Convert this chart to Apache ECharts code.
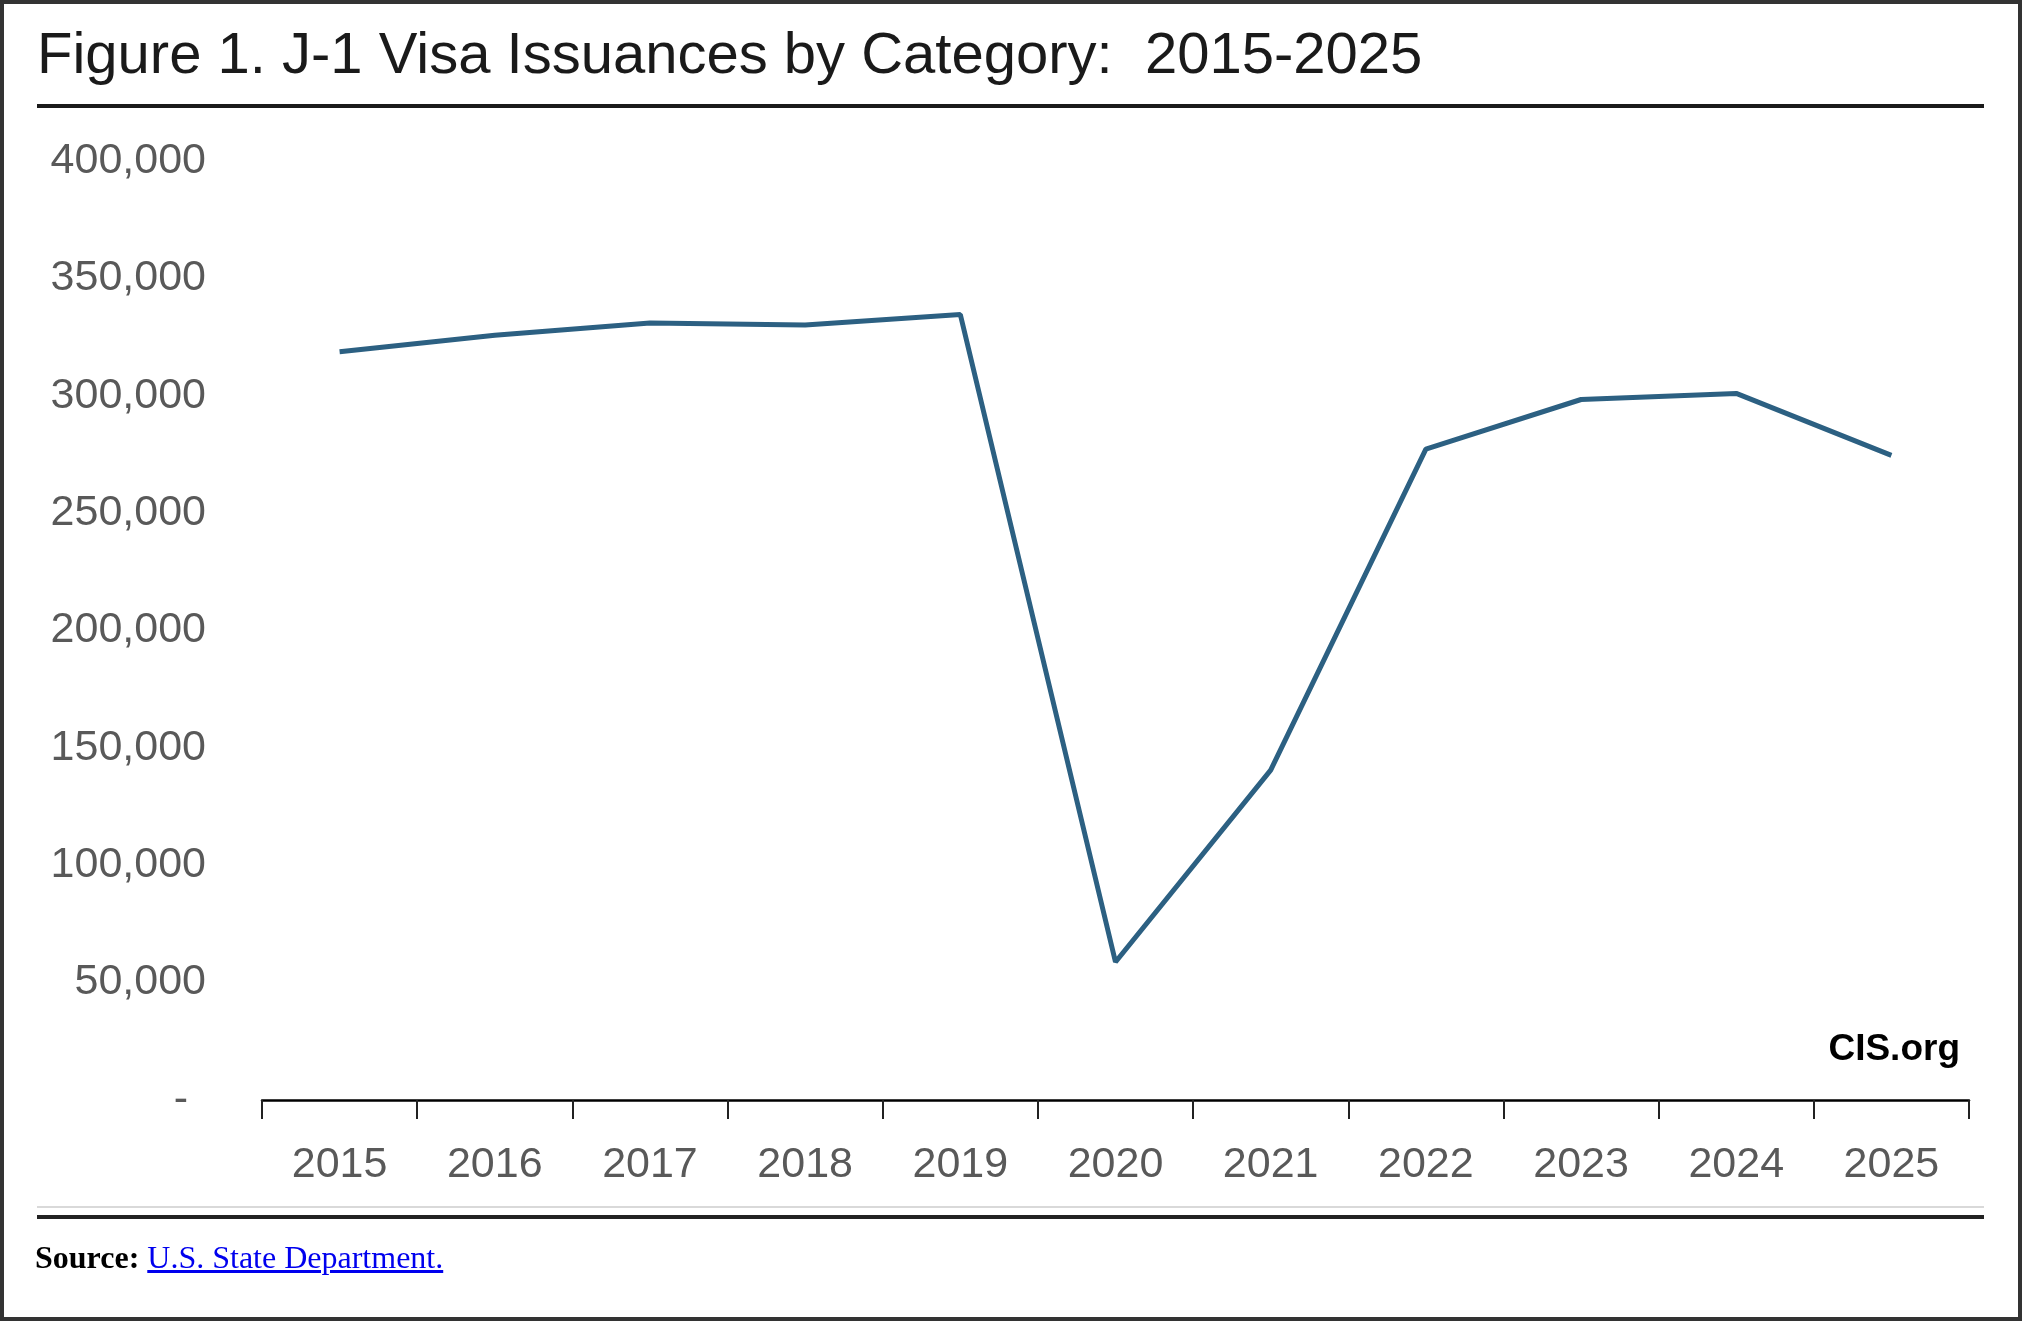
<!DOCTYPE html>
<html>
    <head>
        <meta charset="utf-8">
        <script src="https://cdn.jsdelivr.net/npm/echarts@6/dist/echarts.min.js"></script>
        <style>
            html, body {
                margin: 0;
                padding: 0;
                background: #fff;
            }
            #frame {
                position: relative;
                width: 2022px;
                height: 1321px;
                border: 4px solid #333;
                box-sizing: border-box;
                overflow: hidden;
            }
            #chart {
                position: absolute;
                left: -4px;
                top: -4px;
                width: 2022px;
                height: 1321px;
            }
            .source {
                position: absolute;
                left: 31px;
                top: 1235px;
                font-family: "Liberation Serif", "Times New Roman", serif;
                font-size: 32px;
                color: #000;
            }
            .source b {
                font-weight: bold;
            }
            .source a {
                color: #0000ee;
                text-decoration: underline;
            }
        </style>
    </head>
    <body>
        <div id="frame">
            <div id="chart"></div>
            <div class="source"><b>Source:</b> <a href="#">U.S. State Department.</a></div>
        </div>

        <script>
        var years = ['2015', '2016', '2017', '2018', '2019', '2020', '2021', '2022', '2023', '2024', '2025'];
        var issuances = [318700, 325800, 331000, 330100, 334600, 58800, 140500, 277300, 298400, 301000, 274600];

        var titleText = 'Figure 1. J-1 Visa Issuances by Category:  2015-2025';
        var watermark = 'CIS.org';

        var myChart = echarts.init(document.getElementById('chart'));

        function fmt(v) {
            if (v === 0) {
                return '{dash|-}';
            }
            return String(v).replace(/\B(?=(\d{3})+(?!\d))/g, ',');
        }

        var option = {
            animation: false,
            title: {
                text: titleText,
                left: 32,
                top: 23,
                textStyle: {
                    fontFamily: 'Liberation Sans, Arial, sans-serif',
                    fontSize: 58,
                    fontWeight: 'normal',
                    color: '#1a1a1a'
                }
            },
            grid: {
                left: 262,
                right: 53,
                top: 161,
                bottom: 221
            },
            xAxis: {
                type: 'category',
                data: years,
                boundaryGap: true,
                axisLine: {
                    show: true,
                    lineStyle: { color: '#000', width: 2.5 }
                },
                axisTick: {
                    show: true,
                    alignWithLabel: false,
                    length: 19,
                    lineStyle: { color: '#222', width: 2 }
                },
                axisLabel: {
                    margin: 44,
                    fontFamily: 'Liberation Sans, Arial, sans-serif',
                    fontSize: 43,
                    color: '#595959'
                }
            },
            yAxis: {
                type: 'value',
                min: 0,
                max: 400000,
                interval: 50000,
                axisLine: { show: false },
                axisTick: { show: false },
                splitLine: { show: false },
                axisLabel: {
                    margin: 56,
                    fontFamily: 'Liberation Sans, Arial, sans-serif',
                    fontSize: 43,
                    color: '#595959',
                    formatter: fmt,
                    rich: {
                        dash: {
                            fontFamily: 'Liberation Sans, Arial, sans-serif',
                            fontSize: 43,
                            color: '#595959',
                            padding: [0, 18, 0, 0]
                        }
                    }
                }
            },
            graphic: [
                {
                    type: 'rect',
                    shape: { x: 37, y: 104, width: 1947, height: 4 },
                    style: { fill: '#1a1a1a' }
                },
                {
                    type: 'rect',
                    shape: { x: 37, y: 1206, width: 1947, height: 2 },
                    style: { fill: '#d9d9d9' }
                },
                {
                    type: 'rect',
                    shape: { x: 37, y: 1215, width: 1947, height: 4 },
                    style: { fill: '#222' }
                },
                {
                    type: 'text',
                    right: 62,
                    top: 1031,
                    style: {
                        text: watermark,
                        fontFamily: 'Liberation Sans, Arial, sans-serif',
                        fontSize: 37,
                        fontWeight: 'bold',
                        fill: '#000'
                    }
                }
            ],
            series: [{
                type: 'line',
                name: 'J-1 Visas',
                data: issuances,
                showSymbol: false,
                symbol: 'none',
                lineStyle: {
                    color: '#2c6082',
                    width: 5
                }
            }]
        };

        myChart.setOption(option);
        </script>
    </body>
</html>
